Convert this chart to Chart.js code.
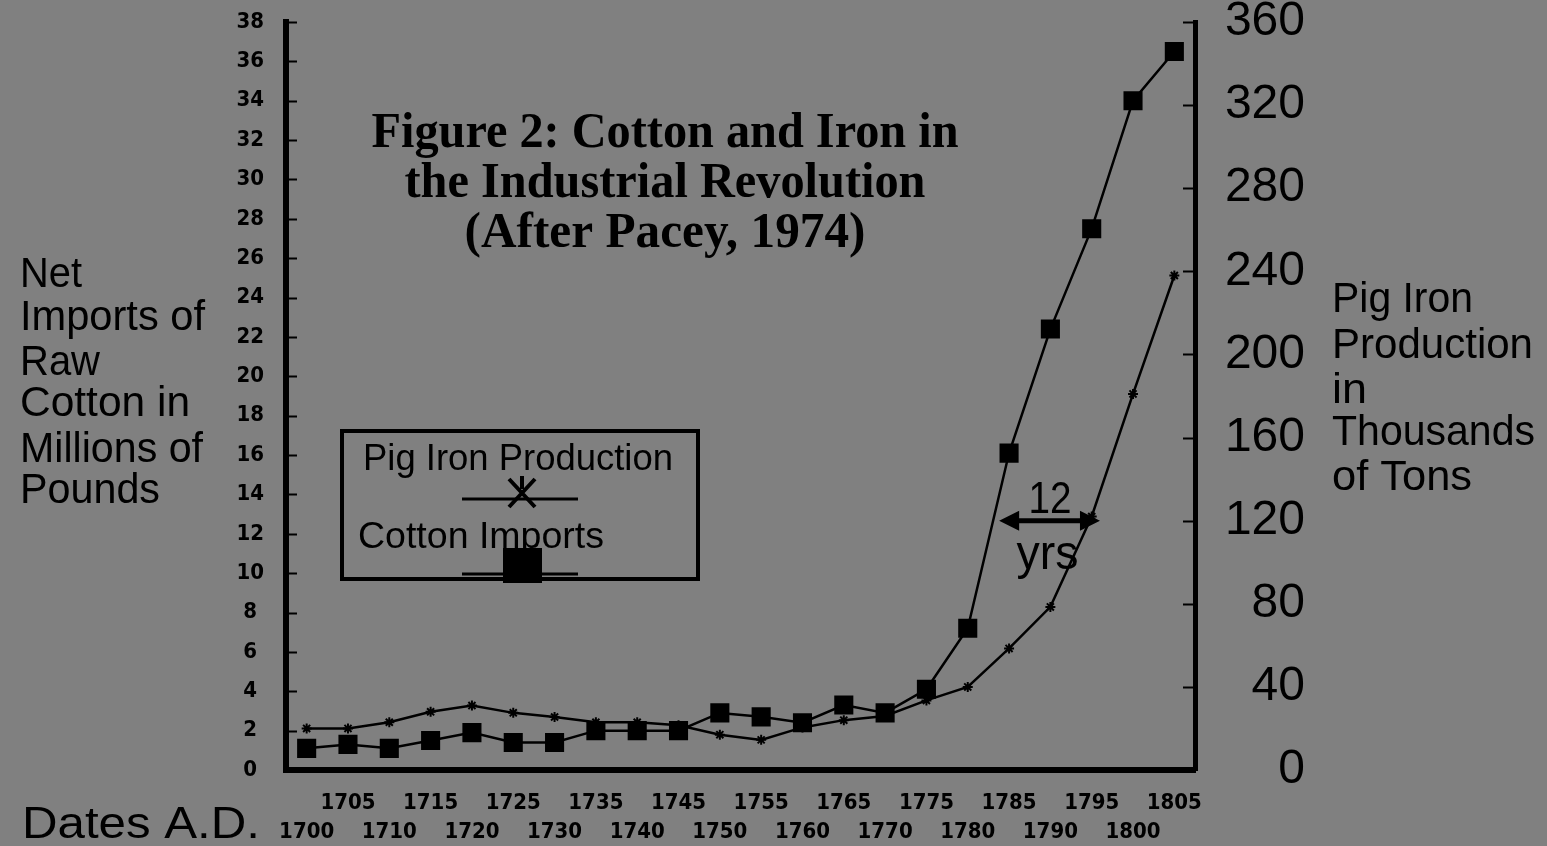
<!DOCTYPE html>
<html>
<head>
<meta charset="utf-8">
<title>Cotton and Iron in the Industrial Revolution</title>
<script src="https://cdn.jsdelivr.net/npm/chart.js@4.4.1/dist/chart.umd.min.js"></script>
<style>
    html, body { margin: 0; padding: 0; background: #808080; }
    #chart-wrap { width: 1547px; height: 846px; }
</style>
</head>
<body>
<div id="chart-wrap"><canvas id="chart" width="1547" height="846"></canvas></div>
<script>
// Dates A.D., one reading every five years
var years = [1700, 1705, 1710, 1715, 1720, 1725, 1730, 1735, 1740, 1745, 1750,
             1755, 1760, 1765, 1770, 1775, 1780, 1785, 1790, 1795, 1800, 1805];

// Net imports of raw cotton, millions of pounds (left axis)
var cottonImports = [1.1, 1.3, 1.1, 1.5, 1.9, 1.4, 1.4, 2.0, 2.0, 2.0, 2.9,
                     2.7, 2.4, 3.3, 2.9, 4.1, 7.2, 16.1, 22.4, 27.5, 34.0, 36.5];

// Pig iron production, thousands of tons (right axis)
var pigIron = [20, 20, 23, 28, 31, 27.5, 25.5, 23, 23, 21.5, 17,
               14.5, 20.5, 24, 26, 33.5, 40, 58.5, 78.5, 122, 181, 238];

// Axis ranges
var cottonAxis = [0, 38, 2];
var ironAxis = [0, 360, 40];

// "12 yrs" lag between the curves, at 120 thousand tons
var lagLabel = ['12', 'yrs'];
var lagYears = [1783.8, 1796];
var lagLevel = 120;

var INK = '#000',
    SANS = '"Liberation Sans", Arial, sans-serif',
    NARROW = '"DejaVu Sans Condensed", "Liberation Sans Narrow", sans-serif',
    SERIF = '"Liberation Serif", "Times New Roman", serif';

/**
 * Draw text squeezed or stretched to a given width.
 */
function fitText(ctx, text, left, baseline, font, width) {
    ctx.save();
    ctx.font = font;
    var w = ctx.measureText(text).width;
    ctx.translate(left, baseline);
    ctx.scale(width / w, 1);
    ctx.textAlign = 'left';
    ctx.textBaseline = 'alphabetic';
    ctx.fillStyle = INK;
    ctx.fillText(text, 0, 0);
    ctx.restore();
}

function yearPixel(xScale, year) {
    return xScale.getPixelForValue((year - years[0]) / 5);
}

// Keep the plot box fixed: no extra room for half tick labels
function noScalePadding(scale) {
    scale.paddingTop = 0;
    scale.paddingBottom = 0;
    scale.paddingLeft = 0;
    scale.paddingRight = 0;
}

var backgroundPlugin = {
    id: 'grayBackground',
    beforeDraw: function(chart) {
        var ctx = chart.ctx;
        ctx.save();
        ctx.fillStyle = '#808080';
        ctx.fillRect(0, 0, chart.width, chart.height);
        ctx.restore();
    }
};

var decorationPlugin = {
    id: 'decoration',
    afterDraw: function(chart) {
        var ctx = chart.ctx,
            area = chart.chartArea,
            x = chart.scales.x,
            y = chart.scales.y,
            y1 = chart.scales.y1;

        ctx.save();
        ctx.strokeStyle = INK;
        ctx.fillStyle = INK;

        // Inward tick marks on both value axes
        ctx.lineWidth = 2;
        y.ticks.forEach(function(t) {
            var py = Math.round(y.getPixelForValue(t.value)) + 0.5;
            ctx.beginPath();
            ctx.moveTo(area.left, py);
            ctx.lineTo(area.left + 11, py);
            ctx.stroke();
        });
        y1.ticks.forEach(function(t) {
            var py = Math.round(y1.getPixelForValue(t.value)) + 0.5;
            ctx.beginPath();
            ctx.moveTo(area.right - 12, py);
            ctx.lineTo(area.right, py);
            ctx.stroke();
        });

        // Axis titles
        var left = ['Net', 'Imports of', 'Raw', 'Cotton in', 'Millions of', 'Pounds'],
            leftBase = [287, 330, 375, 416, 462, 503],
            leftWidth = [62, 185, 80, 170, 183, 140];
        left.forEach(function(s, i) {
            fitText(ctx, s, 20, leftBase[i], '42px ' + SANS, leftWidth[i]);
        });

        var right = ['Pig Iron', 'Production', 'in', 'Thousands', 'of Tons'],
            rightBase = [312, 358, 403, 445, 490],
            rightWidth = [141, 201, 35, 203, 140];
        right.forEach(function(s, i) {
            fitText(ctx, s, 1332, rightBase[i], '42px ' + SANS, rightWidth[i]);
        });

        fitText(ctx, 'Dates A.D.', 22, 838, '44px ' + SANS, 238);

        // Title
        var title = ['Figure 2: Cotton and Iron in', 'the Industrial Revolution', '(After Pacey, 1974)'],
            titleBase = [147, 197, 247],
            titleWidth = [587, 521, 401];
        title.forEach(function(s, i) {
            fitText(ctx, s, 665 - titleWidth[i] / 2, titleBase[i], 'bold 50px ' + SERIF, titleWidth[i]);
        });

        // Legend box
        ctx.lineWidth = 4;
        ctx.strokeRect(342, 431, 356, 148);
        fitText(ctx, 'Pig Iron Production', 363, 470, '36px ' + SANS, 310);
        fitText(ctx, 'Cotton Imports', 358, 548, '36px ' + SANS, 246);

        ctx.lineWidth = 3;
        ctx.beginPath();
        ctx.moveTo(462, 499); ctx.lineTo(578, 499);
        ctx.moveTo(462, 574); ctx.lineTo(578, 574);
        ctx.stroke();

        // asterisk sample
        ctx.lineWidth = 4;
        ctx.beginPath();
        ctx.moveTo(509, 479); ctx.lineTo(535, 507);
        ctx.moveTo(535, 479); ctx.lineTo(509, 507);
        ctx.moveTo(522, 476); ctx.lineTo(522, 489);
        ctx.stroke();
        // square sample
        ctx.fillRect(503, 548, 39, 35);

        // "12 yrs" lag arrow
        var ax1 = yearPixel(x, lagYears[0]),
            ax2 = yearPixel(x, lagYears[1]),
            ay = y1.getPixelForValue(lagLevel);
        ctx.lineWidth = 5;
        ctx.beginPath();
        ctx.moveTo(ax1 + 10, ay); ctx.lineTo(ax2 - 10, ay);
        ctx.stroke();
        ctx.beginPath();
        ctx.moveTo(ax1, ay); ctx.lineTo(ax1 + 20, ay - 10); ctx.lineTo(ax1 + 20, ay + 10); ctx.closePath();
        ctx.moveTo(ax2, ay); ctx.lineTo(ax2 - 20, ay - 10); ctx.lineTo(ax2 - 20, ay + 10); ctx.closePath();
        ctx.fill();

        var mid = (ax1 + ax2) / 2;
        fitText(ctx, lagLabel[0], mid - 21, ay - 8, '44px ' + SANS, 43);
        fitText(ctx, lagLabel[1], mid - 33, ay + 48, '48px ' + SANS, 62);

        ctx.restore();
    }
};

var chart = new Chart(document.getElementById('chart').getContext('2d'), {
    type: 'line',
    data: {
        labels: years.map(String),
        datasets: [{
            label: 'Pig Iron Production',
            data: pigIron,
            yAxisID: 'y1',
            borderColor: INK,
            backgroundColor: INK,
            borderWidth: 2.5,
            pointStyle: 'star',
            pointRadius: 5,
            pointBorderWidth: 2,
            lineTension: 0
        }, {
            label: 'Cotton Imports',
            data: cottonImports,
            yAxisID: 'y',
            borderColor: INK,
            backgroundColor: INK,
            borderWidth: 2.5,
            pointStyle: 'rect',
            pointRadius: 13.5,
            pointBorderWidth: 0,
            lineTension: 0
        }]
    },
    options: {
        responsive: false,
        animation: false,
        events: [],
        // right padding leaves room for the "Pig Iron Production" title
        layout: { padding: { top: 22, left: 0, right: 242, bottom: 0 } },
        plugins: {
            legend: { display: false },
            tooltip: { enabled: false }
        },
        scales: {
            x: {
                type: 'category',
                offset: true,
                afterFit: function(scale) {
                    scale.height = 76;
                    noScalePadding(scale);
                },
                grid: { display: true, drawOnChartArea: false, drawTicks: false, color: 'rgba(0,0,0,0)' },
                border: { display: true, color: INK, width: 6 },
                ticks: {
                    autoSkip: false,
                    maxRotation: 0,
                    padding: 19,
                    color: INK,
                    font: { family: NARROW, size: 22, weight: 'bold', lineHeight: 1.32 },
                    callback: function(value, index) {
                        var label = String(years[index]);
                        return index % 2 === 0 ? ['', label] : [label, ''];
                    }
                }
            },
            y: {
                position: 'left',
                min: cottonAxis[0],
                max: cottonAxis[1],
                afterFit: function(scale) {
                    scale.width = 286;
                    noScalePadding(scale);
                },
                grid: { drawOnChartArea: false, drawTicks: false, color: 'rgba(0,0,0,0)' },
                border: { display: true, color: INK, width: 6 },
                ticks: {
                    stepSize: cottonAxis[2],
                    crossAlign: 'center',
                    padding: 22,
                    color: INK,
                    font: { family: NARROW, size: 22, weight: 'bold' }
                }
            },
            y1: {
                position: 'right',
                min: ironAxis[0],
                max: ironAxis[1],
                afterFit: function(scale) {
                    scale.width = 110;
                    noScalePadding(scale);
                },
                grid: { drawOnChartArea: false, drawTicks: false, color: 'rgba(0,0,0,0)' },
                border: { display: true, color: INK, width: 5 },
                ticks: {
                    stepSize: ironAxis[2],
                    includeBounds: false,
                    crossAlign: 'far',
                    padding: 20,
                    color: INK,
                    font: { family: SANS, size: 48 }
                }
            }
        }
    },
    plugins: [backgroundPlugin, decorationPlugin]
});
</script>
</body>
</html>
